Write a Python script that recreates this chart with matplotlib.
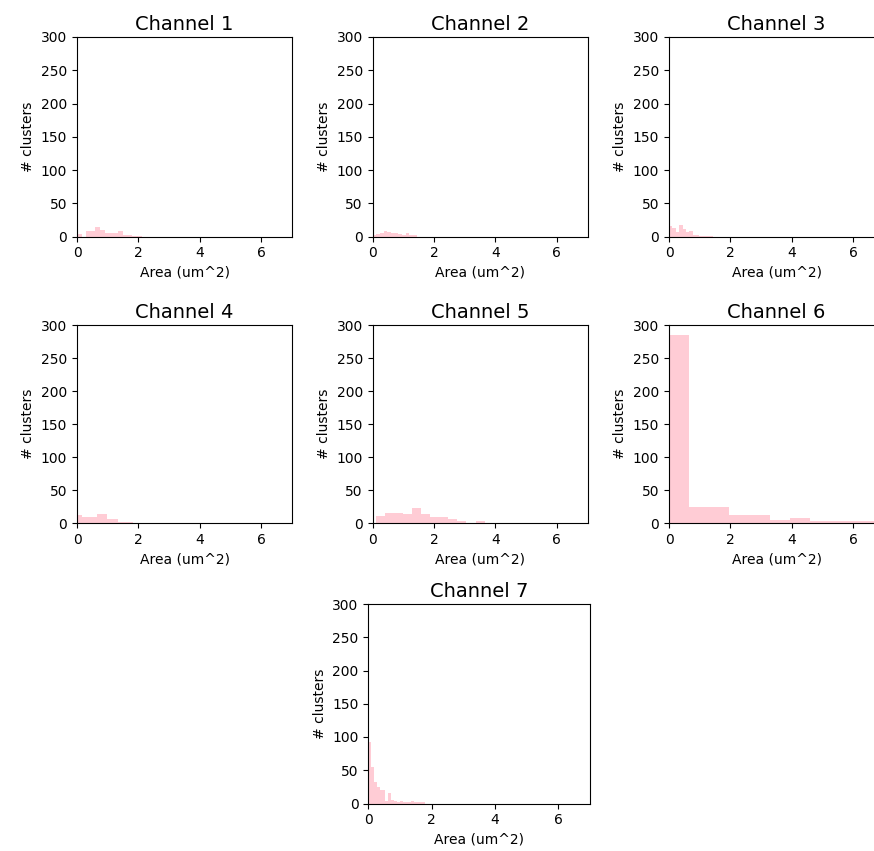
import matplotlib
matplotlib.use("Agg")
import matplotlib.pyplot as plt
import numpy as np

# cluster area histograms per channel: bin edges (um^2) and counts
ch1_edges = np.arange(0, 2.26, 0.15)
ch1_counts = [4, 0, 8, 8, 15, 10, 6, 6, 6, 8, 3, 3, 1, 1, 0]

ch2_edges = np.arange(0, 1.45, 0.12)
ch2_counts = [3, 4, 6, 8, 7, 6, 5, 4, 3, 6, 2, 2]

ch3_edges = np.arange(0, 1.44, 0.11)
ch3_counts = [16, 13, 7, 17, 11, 7, 9, 3, 2, 1, 1, 1, 1]

ch4_edges = np.arange(0, 1.82, 0.165)
ch4_counts = [12, 10, 10, 10, 14, 14, 7, 7, 2, 2, 2]

ch5_edges = np.arange(0.11, 3.66, 0.295)
ch5_counts = [11, 16, 16, 14, 23, 14, 10, 10, 6, 4, 0, 4]

ch6_edges = np.arange(0, 7.21, 0.655)
ch6_counts = [285, 24, 24, 12, 12, 5, 8, 3, 3, 3, 3]

ch7_edges = np.arange(0, 1.81, 0.09)
ch7_counts = [92, 55, 32, 25, 21, 21, 4, 16, 5, 4, 3, 4, 2, 3, 3, 4, 2, 2, 2, 2]

channels = ["Channel 1", "Channel 2", "Channel 3", "Channel 4",
            "Channel 5", "Channel 6", "Channel 7"]
edges = [ch1_edges, ch2_edges, ch3_edges, ch4_edges, ch5_edges, ch6_edges, ch7_edges]
counts = [ch1_counts, ch2_counts, ch3_counts, ch4_counts, ch5_counts, ch6_counts, ch7_counts]

W, H = 874, 851
fig = plt.figure(figsize=(W / 100, H / 100), dpi=100)

# axes boxes in pixels: left, right, top, bottom
boxes = [
    (77, 292, 37, 236.5), (372.5, 587.5, 37, 236.5), (669, 884, 37, 236.5),
    (77, 292, 325, 523.3), (372.5, 587.5, 325, 523.3), (669, 884, 325, 523.3),
    (368.3, 590, 604, 803.5),
]

for name, e, c, (l, r, t, b) in zip(channels, edges, counts, boxes):
    ax = fig.add_axes([l / W, 1 - b / H, (r - l) / W, (b - t) / H])
    ax.hist(e[:-1], bins=e, weights=c, color="pink", alpha=0.8)
    ax.set_xlim(0, 7)
    ax.set_ylim(0, 300)
    ax.set_xticks([0, 2, 4, 6])
    ax.set_yticks(range(0, 301, 50))
    ax.set_title(name, fontsize=14, pad=5)
    ax.set_xlabel("Area (um^2)")
    ax.set_ylabel("# clusters")

fig.savefig("out.png", dpi=100)
